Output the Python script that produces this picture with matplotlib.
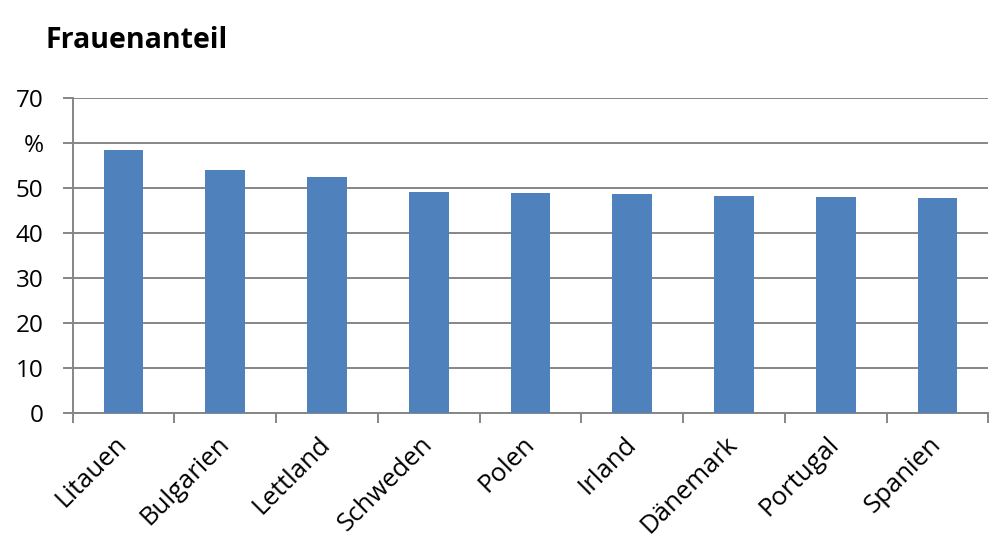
import matplotlib.pyplot as plt
import numpy as np

countries = ['Litauen', 'Bulgarien', 'Lettland', 'Schweden', 'Polen',
             'Irland', 'Dänemark', 'Portugal', 'Spanien']
share = [58.4, 53.9, 52.3, 49.0, 48.9, 48.6, 48.2, 47.9, 47.7]
y_ticks = [0, 10, 20, 30, 40, 50, 60, 70]
y_labels = ['0', '10', '20', '30', '40', '50', '%', '70']

plt.rcParams['font.family'] = ['Open Sans', 'DejaVu Sans']

fig = plt.figure(figsize=(10, 5.46), dpi=100)
ax = fig.add_axes([0.0727, 0.2441, 0.9156, 0.577])

x = np.arange(len(countries))
ax.bar(x, share, width=0.39, color='#4F81BD', zorder=3)

ax.set_xlim(-0.5, len(countries) - 0.5)
ax.set_ylim(0, 70)
ax.set_yticks(y_ticks)
ax.set_yticklabels(y_labels, fontsize=17.5)
ax.yaxis.grid(True, color='#868686', linewidth=1.4, zorder=0)

# category boundary ticks on the x axis
ax.set_xticks(np.arange(len(countries) + 1) - 0.5)
ax.set_xticklabels([])
ax.set_xticks(x, minor=True)
ax.set_xticklabels(countries, minor=True, rotation=45, ha='right',
                   va='center', rotation_mode='anchor', fontsize=18.5)
ax.tick_params(axis='x', which='minor', length=0, pad=20)
ax.tick_params(axis='x', which='major', length=7, width=1.4, color='#868686')
ax.tick_params(axis='y', length=7, width=1.4, color='#868686', pad=14)

for s in ['top', 'right']:
    ax.spines[s].set_visible(False)
for s in ['left', 'bottom']:
    ax.spines[s].set_color('#868686')
    ax.spines[s].set_linewidth(1.4)

fig.text(0.045, 0.925, 'Frauenanteil', fontsize=20.5, fontweight='bold',
         va='center', ha='left')

fig.savefig('out.png', dpi=100)
